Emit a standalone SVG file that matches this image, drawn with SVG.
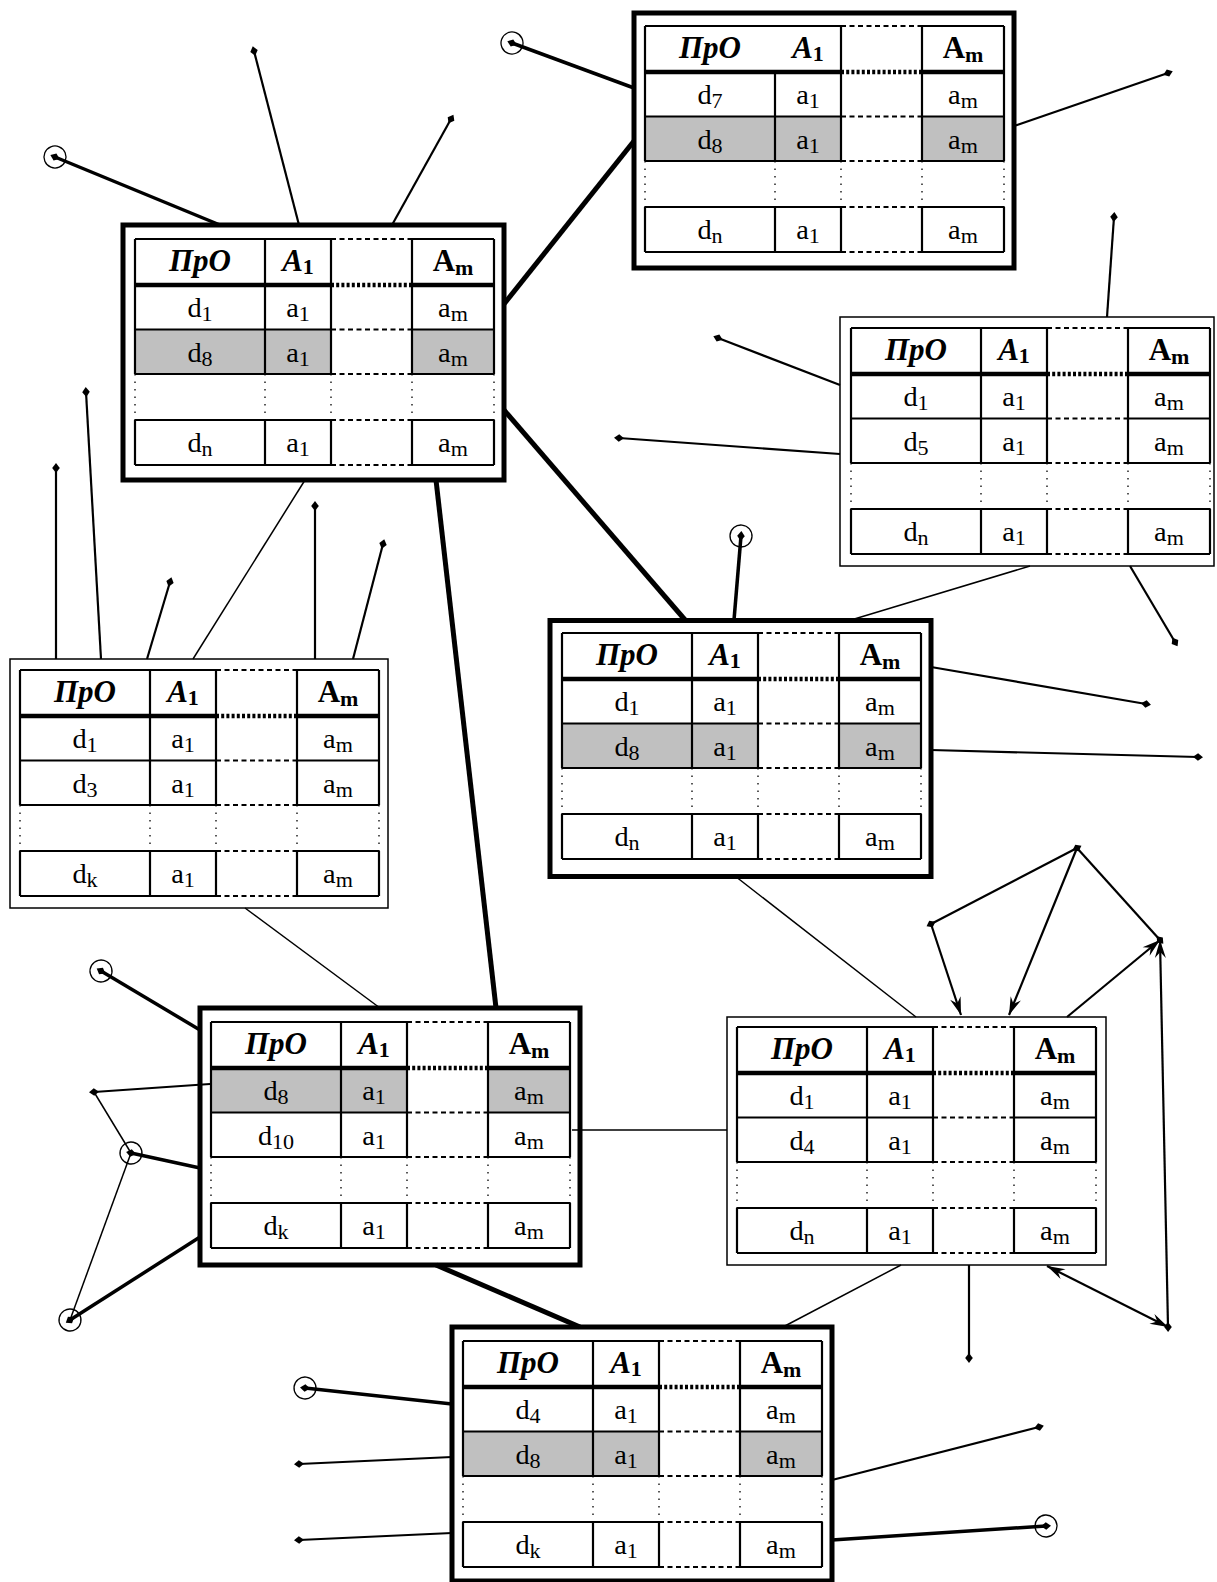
<svg xmlns="http://www.w3.org/2000/svg" xmlns:xlink="http://www.w3.org/1999/xlink" width="1217" height="1582" viewBox="0 0 1217 1582">
<style>
.bg{fill:#fff}
.frk{fill:#fff;stroke:#000;stroke-width:5}
.frn{fill:#fff;stroke:#000;stroke-width:1.5}
.hl{fill:#c0c0c0}
.gs{fill:none;stroke:#000;stroke-width:2.2}
.gh{fill:none;stroke:#000;stroke-width:4.5}
.gd{fill:none;stroke:#000;stroke-width:4.5;stroke-dasharray:3 2.2}
.gda{fill:none;stroke:#000;stroke-width:2.2;stroke-dasharray:5 3.5}
.gdo{fill:none;stroke:#000;stroke-width:1.3;stroke-dasharray:1.5 6}
text{font-family:"Liberation Serif","Times New Roman",serif;fill:#000;text-anchor:middle;transform-box:fill-box;transform-origin:center}
.d{font-size:27px;transform:scaleX(1.05)}
.s{font-size:21px}
.h{font-size:31px;font-weight:bold}
.hi{font-style:italic}
.hs{font-size:22px;font-weight:bold;font-style:normal}
.c1{fill:none;stroke:#000;stroke-width:1.5}
.c2{fill:none;stroke:#000;stroke-width:2.2}
.c3{fill:none;stroke:#000;stroke-width:3.5}
.c5{fill:none;stroke:#000;stroke-width:5}
</style>
<defs>
<marker id="dm" markerUnits="userSpaceOnUse" markerWidth="1" markerHeight="1" refX="0" refY="0" orient="auto" overflow="visible"><path d="M-5,0 L0,-3.8 L5,0 L0,3.8 Z" fill="#000"/></marker>
<marker id="ci" markerUnits="userSpaceOnUse" markerWidth="1" markerHeight="1" refX="0" refY="0" orient="auto" overflow="visible"><circle r="11" fill="none" stroke="#000" stroke-width="1.3"/><path d="M-5,0 L0,-3.8 L5,0 L0,3.8 Z" fill="#000"/></marker>
<marker id="ar" markerUnits="userSpaceOnUse" markerWidth="1" markerHeight="1" refX="0" refY="0" orient="auto-start-reverse" overflow="visible"><path d="M0,0 L-18,-5.5 L-12,0 L-18,5.5 Z" fill="#000"/></marker>
<g id="grid">
<path class="gs" d="M0,0 H196 M277,0 H359 M0,90.5 H196 M277,90.5 H359 M0,135 H196 M277,135 H359 M0,181 H196 M277,181 H359 M0,226 H196 M277,226 H359 M0,0 V135 M196,0 V135 M277,0 V135 M359,0 V135 M130,46 V135 M0,181 V226 M130,181 V226 M196,181 V226 M277,181 V226 M359,181 V226"/>
<path class="gh" d="M0,46 H196 M277,46 H359"/>
<path class="gd" d="M196,46 H277"/>
<path class="gda" d="M196,0 H277 M196,90.5 H277 M196,135 H277 M196,181 H277 M196,226 H277"/>
<path class="gdo" d="M0,135 V181 M130,135 V181 M196,135 V181 M277,135 V181 M359,135 V181"/>
</g>
<g id="hdr">
<text class="h hi" x="65" y="32">ПрО</text>
<text class="h hi" x="163" y="32">A<tspan class="hs" dy="3">1</tspan></text>
<text class="h" x="318" y="32">A<tspan class="hs" dy="4">m</tspan></text>
</g>
<path id="hdiv" class="gs" d="M130,0 V46"/>
</defs>
<rect class="bg" x="0" y="0" width="1217" height="1582"/>

<g id="t1" transform="translate(645,26)">
<rect class="frk" x="-11" y="-13" width="380" height="255"/>
<rect class="hl" x="0" y="90.5" width="196" height="44.5"/><rect class="hl" x="277" y="90.5" width="82" height="44.5"/>
<use xlink:href="#grid"/><use xlink:href="#hdr"/>
<text class="d" x="65" y="78">d<tspan class="s" dy="4">7</tspan></text><text class="d" x="163" y="78">a<tspan class="s" dy="4">1</tspan></text><text class="d" x="318" y="78">a<tspan class="s" dy="4">m</tspan></text>
<text class="d" x="65" y="123">d<tspan class="s" dy="4">8</tspan></text><text class="d" x="163" y="123">a<tspan class="s" dy="4">1</tspan></text><text class="d" x="318" y="123">a<tspan class="s" dy="4">m</tspan></text>
<text class="d" x="65" y="213">d<tspan class="s" dy="4">n</tspan></text><text class="d" x="163" y="213">a<tspan class="s" dy="4">1</tspan></text><text class="d" x="318" y="213">a<tspan class="s" dy="4">m</tspan></text>
</g>

<g id="t2" transform="translate(135,239)">
<rect class="frk" x="-12" y="-14" width="381" height="255"/>
<rect class="hl" x="0" y="90.5" width="196" height="44.5"/><rect class="hl" x="277" y="90.5" width="82" height="44.5"/>
<use xlink:href="#grid"/><use xlink:href="#hdiv"/><use xlink:href="#hdr"/>
<text class="d" x="65" y="78">d<tspan class="s" dy="4">1</tspan></text><text class="d" x="163" y="78">a<tspan class="s" dy="4">1</tspan></text><text class="d" x="318" y="78">a<tspan class="s" dy="4">m</tspan></text>
<text class="d" x="65" y="123">d<tspan class="s" dy="4">8</tspan></text><text class="d" x="163" y="123">a<tspan class="s" dy="4">1</tspan></text><text class="d" x="318" y="123">a<tspan class="s" dy="4">m</tspan></text>
<text class="d" x="65" y="213">d<tspan class="s" dy="4">n</tspan></text><text class="d" x="163" y="213">a<tspan class="s" dy="4">1</tspan></text><text class="d" x="318" y="213">a<tspan class="s" dy="4">m</tspan></text>
</g>

<g id="t3" transform="translate(851,328)">
<rect class="frn" x="-11" y="-11" width="374" height="249"/>
<use xlink:href="#grid"/><use xlink:href="#hdiv"/><use xlink:href="#hdr"/>
<text class="d" x="65" y="78">d<tspan class="s" dy="4">1</tspan></text><text class="d" x="163" y="78">a<tspan class="s" dy="4">1</tspan></text><text class="d" x="318" y="78">a<tspan class="s" dy="4">m</tspan></text>
<text class="d" x="65" y="123">d<tspan class="s" dy="4">5</tspan></text><text class="d" x="163" y="123">a<tspan class="s" dy="4">1</tspan></text><text class="d" x="318" y="123">a<tspan class="s" dy="4">m</tspan></text>
<text class="d" x="65" y="213">d<tspan class="s" dy="4">n</tspan></text><text class="d" x="163" y="213">a<tspan class="s" dy="4">1</tspan></text><text class="d" x="318" y="213">a<tspan class="s" dy="4">m</tspan></text>
</g>

<g id="t4" transform="translate(562,633)">
<rect class="frk" x="-12" y="-12.5" width="381" height="256"/>
<rect class="hl" x="0" y="90.5" width="196" height="44.5"/><rect class="hl" x="277" y="90.5" width="82" height="44.5"/>
<use xlink:href="#grid"/><use xlink:href="#hdiv"/><use xlink:href="#hdr"/>
<text class="d" x="65" y="78">d<tspan class="s" dy="4">1</tspan></text><text class="d" x="163" y="78">a<tspan class="s" dy="4">1</tspan></text><text class="d" x="318" y="78">a<tspan class="s" dy="4">m</tspan></text>
<text class="d" x="65" y="123">d<tspan class="s" dy="4">8</tspan></text><text class="d" x="163" y="123">a<tspan class="s" dy="4">1</tspan></text><text class="d" x="318" y="123">a<tspan class="s" dy="4">m</tspan></text>
<text class="d" x="65" y="213">d<tspan class="s" dy="4">n</tspan></text><text class="d" x="163" y="213">a<tspan class="s" dy="4">1</tspan></text><text class="d" x="318" y="213">a<tspan class="s" dy="4">m</tspan></text>
</g>

<g id="t5" transform="translate(20,670)">
<rect class="frn" x="-10" y="-11" width="378" height="249"/>
<use xlink:href="#grid"/><use xlink:href="#hdiv"/><use xlink:href="#hdr"/>
<text class="d" x="65" y="78">d<tspan class="s" dy="4">1</tspan></text><text class="d" x="163" y="78">a<tspan class="s" dy="4">1</tspan></text><text class="d" x="318" y="78">a<tspan class="s" dy="4">m</tspan></text>
<text class="d" x="65" y="123">d<tspan class="s" dy="4">3</tspan></text><text class="d" x="163" y="123">a<tspan class="s" dy="4">1</tspan></text><text class="d" x="318" y="123">a<tspan class="s" dy="4">m</tspan></text>
<text class="d" x="65" y="213">d<tspan class="s" dy="4">k</tspan></text><text class="d" x="163" y="213">a<tspan class="s" dy="4">1</tspan></text><text class="d" x="318" y="213">a<tspan class="s" dy="4">m</tspan></text>
</g>

<g id="t6" transform="translate(211,1022)">
<rect class="frk" x="-11" y="-14" width="380" height="257"/>
<rect class="hl" x="0" y="46" width="196" height="44.5"/><rect class="hl" x="277" y="46" width="82" height="44.5"/>
<use xlink:href="#grid"/><use xlink:href="#hdiv"/><use xlink:href="#hdr"/>
<text class="d" x="65" y="78">d<tspan class="s" dy="4">8</tspan></text><text class="d" x="163" y="78">a<tspan class="s" dy="4">1</tspan></text><text class="d" x="318" y="78">a<tspan class="s" dy="4">m</tspan></text>
<text class="d" x="65" y="123">d<tspan class="s" dy="4">10</tspan></text><text class="d" x="163" y="123">a<tspan class="s" dy="4">1</tspan></text><text class="d" x="318" y="123">a<tspan class="s" dy="4">m</tspan></text>
<text class="d" x="65" y="213">d<tspan class="s" dy="4">k</tspan></text><text class="d" x="163" y="213">a<tspan class="s" dy="4">1</tspan></text><text class="d" x="318" y="213">a<tspan class="s" dy="4">m</tspan></text>
</g>

<g id="t7" transform="translate(737,1027)">
<rect class="frn" x="-10" y="-10" width="379" height="248"/>
<use xlink:href="#grid"/><use xlink:href="#hdiv"/><use xlink:href="#hdr"/>
<text class="d" x="65" y="78">d<tspan class="s" dy="4">1</tspan></text><text class="d" x="163" y="78">a<tspan class="s" dy="4">1</tspan></text><text class="d" x="318" y="78">a<tspan class="s" dy="4">m</tspan></text>
<text class="d" x="65" y="123">d<tspan class="s" dy="4">4</tspan></text><text class="d" x="163" y="123">a<tspan class="s" dy="4">1</tspan></text><text class="d" x="318" y="123">a<tspan class="s" dy="4">m</tspan></text>
<text class="d" x="65" y="213">d<tspan class="s" dy="4">n</tspan></text><text class="d" x="163" y="213">a<tspan class="s" dy="4">1</tspan></text><text class="d" x="318" y="213">a<tspan class="s" dy="4">m</tspan></text>
</g>

<g id="t8" transform="translate(463,1341)">
<rect class="frk" x="-11" y="-14" width="380" height="254"/>
<rect class="hl" x="0" y="90.5" width="196" height="44.5"/><rect class="hl" x="277" y="90.5" width="82" height="44.5"/>
<use xlink:href="#grid"/><use xlink:href="#hdiv"/><use xlink:href="#hdr"/>
<text class="d" x="65" y="78">d<tspan class="s" dy="4">4</tspan></text><text class="d" x="163" y="78">a<tspan class="s" dy="4">1</tspan></text><text class="d" x="318" y="78">a<tspan class="s" dy="4">m</tspan></text>
<text class="d" x="65" y="123">d<tspan class="s" dy="4">8</tspan></text><text class="d" x="163" y="123">a<tspan class="s" dy="4">1</tspan></text><text class="d" x="318" y="123">a<tspan class="s" dy="4">m</tspan></text>
<text class="d" x="65" y="213">d<tspan class="s" dy="4">k</tspan></text><text class="d" x="163" y="213">a<tspan class="s" dy="4">1</tspan></text><text class="d" x="318" y="213">a<tspan class="s" dy="4">m</tspan></text>
</g>

<g id="connectors">
<line class="c5" x1="504" y1="304" x2="634" y2="141"/>
<line class="c5" x1="504" y1="410" x2="686" y2="621"/>
<line class="c5" x1="436" y1="480" x2="496" y2="1008"/>
<line class="c5" x1="436" y1="1265" x2="580" y2="1327"/>
<line class="c1" x1="305" y1="480" x2="193" y2="659"/>
<line class="c1" x1="1030" y1="566" x2="851" y2="620"/>
<line class="c1" x1="735" y1="876" x2="916" y2="1017"/>
<line class="c1" x1="245" y1="908" x2="380" y2="1008"/>
<line class="c1" x1="572" y1="1130" x2="727" y2="1130"/>
<line class="c1" x1="901" y1="1265" x2="783" y2="1327"/>

<line class="c3" x1="220" y1="225" x2="55" y2="157" marker-end="url(#ci)"/>
<line class="c2" x1="299" y1="225" x2="254" y2="51" marker-end="url(#dm)"/>
<line class="c2" x1="392" y1="225" x2="451" y2="119" marker-end="url(#dm)"/>
<line class="c3" x1="634" y1="88" x2="512" y2="43" marker-end="url(#ci)"/>
<line class="c2" x1="1014" y1="126" x2="1168" y2="73" marker-end="url(#dm)"/>
<line class="c2" x1="1107" y1="317" x2="1114" y2="217" marker-end="url(#dm)"/>
<line class="c2" x1="840" y1="385" x2="718" y2="338" marker-end="url(#dm)"/>
<line class="c2" x1="840" y1="454" x2="619" y2="438" marker-end="url(#dm)"/>
<line class="c2" x1="1130" y1="566" x2="1175" y2="642" marker-end="url(#dm)"/>
<line class="c3" x1="734" y1="620" x2="741" y2="536" marker-end="url(#ci)"/>
<line class="c2" x1="931" y1="667" x2="1146" y2="704" marker-end="url(#dm)"/>
<line class="c2" x1="931" y1="750" x2="1198" y2="757" marker-end="url(#dm)"/>
<line class="c2" x1="315" y1="659" x2="315" y2="506" marker-end="url(#dm)"/>
<line class="c2" x1="353" y1="659" x2="383" y2="544" marker-end="url(#dm)"/>
<line class="c2" x1="101" y1="659" x2="86" y2="392" marker-end="url(#dm)"/>
<line class="c2" x1="56" y1="659" x2="56" y2="468" marker-end="url(#dm)"/>
<line class="c2" x1="147" y1="659" x2="170" y2="582" marker-end="url(#dm)"/>
<line class="c3" x1="200" y1="1030" x2="101" y2="971" marker-end="url(#ci)"/>
<line class="c2" x1="210" y1="1084" x2="94" y2="1092" marker-end="url(#dm)"/>
<line class="c3" x1="200" y1="1168" x2="131" y2="1153" marker-end="url(#ci)"/>
<line class="c3" x1="200" y1="1237" x2="70" y2="1320" marker-end="url(#ci)"/>
<line class="c1" x1="94" y1="1092" x2="131" y2="1153"/>
<line class="c1" x1="131" y1="1153" x2="70" y2="1320"/>
<line class="c3" x1="452" y1="1404" x2="305" y2="1388" marker-end="url(#ci)"/>
<line class="c2" x1="452" y1="1457" x2="299" y2="1464" marker-end="url(#dm)"/>
<line class="c2" x1="452" y1="1533" x2="299" y2="1540" marker-end="url(#dm)"/>
<line class="c2" x1="832" y1="1480" x2="1039" y2="1427" marker-end="url(#dm)"/>
<line class="c3" x1="832" y1="1540" x2="1046" y2="1526" marker-end="url(#ci)"/>
<line class="c2" x1="969" y1="1265" x2="969" y2="1358" marker-end="url(#dm)"/>

<line class="c2" x1="1077" y1="848" x2="931" y2="924" marker-start="url(#dm)" marker-end="url(#dm)"/>
<line class="c2" x1="931" y1="924" x2="961" y2="1015" marker-end="url(#ar)"/>
<line class="c2" x1="1077" y1="848" x2="1009" y2="1015" marker-end="url(#ar)"/>
<line class="c2" x1="1077" y1="848" x2="1160" y2="940" marker-end="url(#dm)"/>
<line class="c2" x1="1067" y1="1017" x2="1160" y2="940" marker-end="url(#ar)"/>
<line class="c2" x1="1168" y1="1327" x2="1160" y2="940" marker-start="url(#dm)" marker-end="url(#ar)"/>
<line class="c2" x1="1047" y1="1266" x2="1168" y2="1327" marker-start="url(#ar)" marker-end="url(#ar)"/>
</g>
</svg>
